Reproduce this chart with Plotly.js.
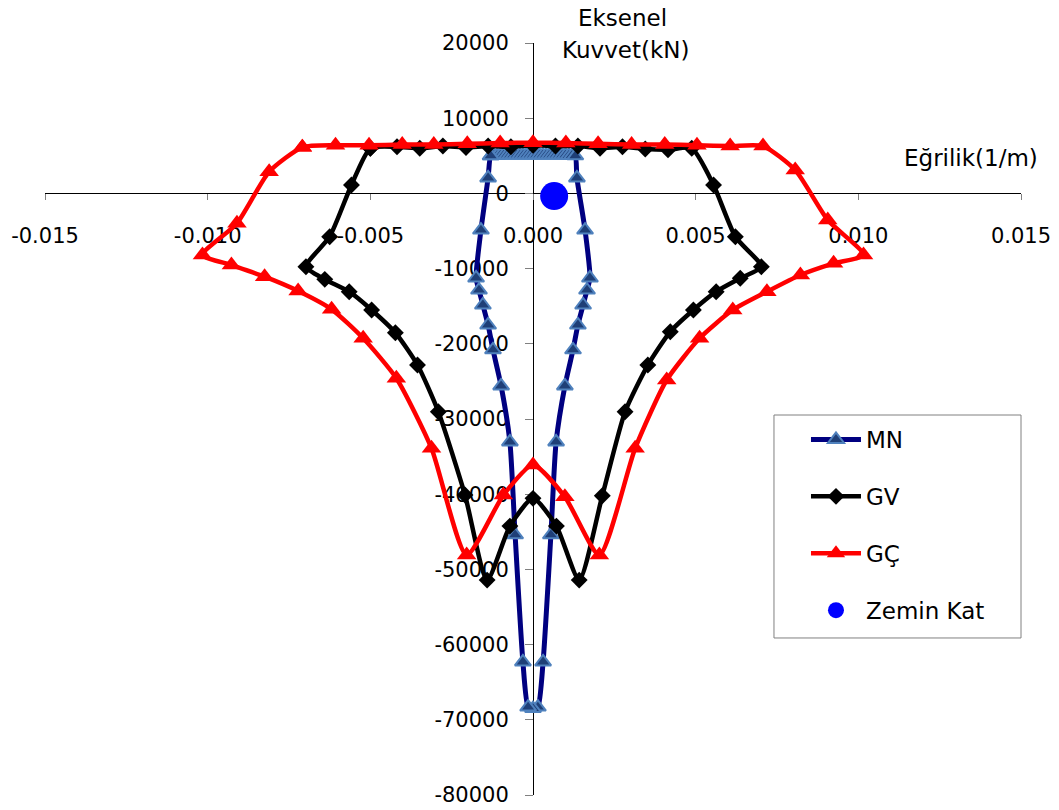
<!DOCTYPE html>
<html>
<head>
<meta charset="utf-8">
<script src="https://cdn.plot.ly/plotly-3.0.1.min.js"></script>
<style>html,body{margin:0;padding:0;background:#fff;}#chart{width:1059px;height:810px;}</style>
</head>
<body>
<div id="chart"></div>
<script>
// MN series (x: curvature 1/m, y: axial force kN)
const mnX = [-0.0013,-0.0012,-0.0011,-0.0010,-0.0009,-0.0008,-0.0007,-0.0006,-0.0005,-0.0004,-0.0003,-0.0002,-0.0001,0.0000,0.0001,0.0002,0.0003,0.0004,0.0005,0.0006,0.0007,0.0008,0.0009,0.0010,0.0011,0.0012,0.0013,
  0.00135,0.00160,0.00175,0.00166,0.00154,0.00138,0.00123,0.00098,0.00071,0.00055,0.00031,0.00015,0.0000,-0.00015,-0.00031,-0.00055,-0.00071,-0.00098,-0.00123,-0.00138,-0.00154,-0.00166,-0.00175,-0.00160,-0.00138,-0.0013];
const mnY = [5000,5050,5050,5100,5100,5100,5100,5100,5100,5100,5100,5100,5100,5100,5100,5100,5100,5100,5100,5100,5100,5100,5100,5100,5050,5050,5000,
  2050,-4870,-11250,-12850,-14840,-17500,-20800,-25600,-33050,-45400,-62300,-68300,-68500,-68300,-62300,-45400,-33050,-25600,-20800,-17500,-14840,-12850,-11250,-4870,2050,5000];

// GV series
const gvX = [-0.0050,-0.00418,-0.00348,-0.00277,-0.00206,-0.00138,-0.00068,0.0000,0.00069,0.00138,0.00206,0.00275,0.00345,0.00415,0.00488,
  0.00555,0.00622,0.00702,0.00637,0.00563,0.00493,0.00422,0.00353,0.00283,0.00213,0.00142,0.00072,0.0000,-0.00071,-0.00141,-0.00209,-0.00291,-0.00355,-0.00423,-0.00496,-0.00565,-0.00640,-0.00698,-0.00625,-0.00558,-0.0050];
const gvY = [6000,6200,6000,6300,6100,6300,6200,6400,6300,6300,6000,6200,5900,5800,6000,
  1120,-5760,-9750,-11290,-13070,-15500,-18390,-22820,-29030,-40200,-51420,-44240,-40550,-44240,-51420,-40110,-29030,-22820,-18530,-15500,-13070,-11430,-9750,-5760,1120,6000];

// GÇ series
const gcX = [-0.00709,-0.00607,-0.00504,-0.00402,-0.00305,-0.00202,-0.00101,0.0000,0.00101,0.00200,0.00303,0.00405,0.00504,0.00606,0.00707,
  0.00806,0.00906,0.01016,0.00924,0.00822,0.00719,0.00614,0.00512,0.00411,0.00314,0.00204,0.00098,0.0000,-0.00091,-0.00204,-0.00312,-0.00420,-0.00522,-0.00619,-0.00722,-0.00825,-0.00927,-0.01016,-0.00910,-0.00811,-0.00709];
const gcY = [6130,6400,6400,6500,6500,6600,6700,6750,6700,6600,6500,6500,6400,6300,6300,
  3110,-3540,-8190,-9300,-10850,-13070,-15500,-19270,-24820,-33900,-48090,-40340,-36120,-40110,-48090,-33900,-24590,-19270,-15420,-12980,-11080,-9520,-8190,-3980,2890,6130];

// Zemin Kat point
const zkX = [0.00065];
const zkY = [-350];

// Tick labels
const xTickVals = [-0.015,-0.010,-0.005,0.000,0.005,0.010,0.015];
const xTickText = ["-0.015","-0.010","-0.005","0.000","0.005","0.010","0.015"];
const yTickVals = [20000,10000,0,-10000,-20000,-30000,-40000,-50000,-60000,-70000,-80000];
const yTickText = ["20000","10000","0","-10000","-20000","-30000","-40000","-50000","-60000","-70000","-80000"];

const FONT = "DejaVu Sans";

const traces = [
  {x: mnX, y: mnY, name: "MN", mode: "lines+markers", legendgroup: "a",
   line: {color: "#000080", width: 5, shape: "spline", smoothing: 0.6},
   marker: {symbol: "triangle-up", size: 14, color: "#1F3F77", line: {color: "#4F81BD", width: 2}}},
  {x: gvX, y: gvY, name: "GV", mode: "lines+markers", legendgroup: "b",
   line: {color: "#000000", width: 4.5, shape: "spline", smoothing: 0.6},
   marker: {symbol: "diamond", size: 13, color: "#000000"}},
  {x: gcX, y: gcY, name: "GÇ", mode: "lines+markers", legendgroup: "c",
   line: {color: "#FF0000", width: 4.5, shape: "spline", smoothing: 0.6},
   marker: {symbol: "triangle-up", size: 17, color: "#FF0000"}},
  {x: zkX, y: zkY, name: "Zemin Kat", mode: "markers", legendgroup: "d",
   marker: {symbol: "circle", size: 28, color: "#0000FF"}}
];

const layout = {
  width: 1059, height: 810,
  margin: {l: 45, r: 38, t: 43, b: 15, pad: 0},
  paper_bgcolor: "#ffffff", plot_bgcolor: "#ffffff",
  font: {family: FONT, size: 21, color: "#000000"},
  showlegend: true,
  hovermode: false,
  xaxis: {
    range: [-0.015, 0.015], tickvals: xTickVals, ticktext: xTickText,
    anchor: "free", position: 0.8, showgrid: false, zeroline: false,
    showline: true, linecolor: "#000000", linewidth: 1,
    ticks: "outside", ticklen: 6, tickcolor: "#808080", tickwidth: 1,
    ticklabelstandoff: 17, layer: "below traces",
    tickfont: {family: FONT, size: 21, color: "#000000"}
  },
  yaxis: {
    range: [-80000, 20000], tickvals: yTickVals, ticktext: yTickText,
    anchor: "free", position: 0.5, showgrid: false, zeroline: false,
    showline: true, linecolor: "#000000", linewidth: 1,
    ticks: "outside", ticklen: 8, tickcolor: "#808080", tickwidth: 1,
    ticklabelstandoff: 12, layer: "below traces",
    tickfont: {family: FONT, size: 21, color: "#000000"}
  },
  legend: {
    x: 0.7797, y: 0.5013, xanchor: "left", yanchor: "top",
    bgcolor: "rgba(0,0,0,0)", borderwidth: 0,
    font: {family: FONT, size: 23, color: "#000000"},
    traceorder: "grouped", tracegroupgap: 24, itemwidth: 50
  },
  shapes: [
    {type: "rect", xref: "paper", yref: "paper", x0: 0.7469, x1: 1.0, y0: 0.2088, y1: 0.5053,
     line: {color: "#808080", width: 1}, fillcolor: "#ffffff", layer: "above"}
  ],
  annotations: [
    {text: "Eksenel", xref: "paper", yref: "paper", x: 0.592, y: 1.033, xanchor: "center", yanchor: "middle", showarrow: false, font: {family: FONT, size: 23}},
    {text: "Kuvvet(kN)", xref: "paper", yref: "paper", x: 0.595, y: 0.991, xanchor: "center", yanchor: "middle", showarrow: false, font: {family: FONT, size: 23}},
    {text: "Eğrilik(1/m)", xref: "paper", yref: "paper", x: 1.019, y: 0.847, xanchor: "right", yanchor: "middle", showarrow: false, font: {family: FONT, size: 23}}
  ]
};

Plotly.newPlot("chart", traces, layout, {displayModeBar: false, staticPlot: true});
</script>
</body>
</html>
